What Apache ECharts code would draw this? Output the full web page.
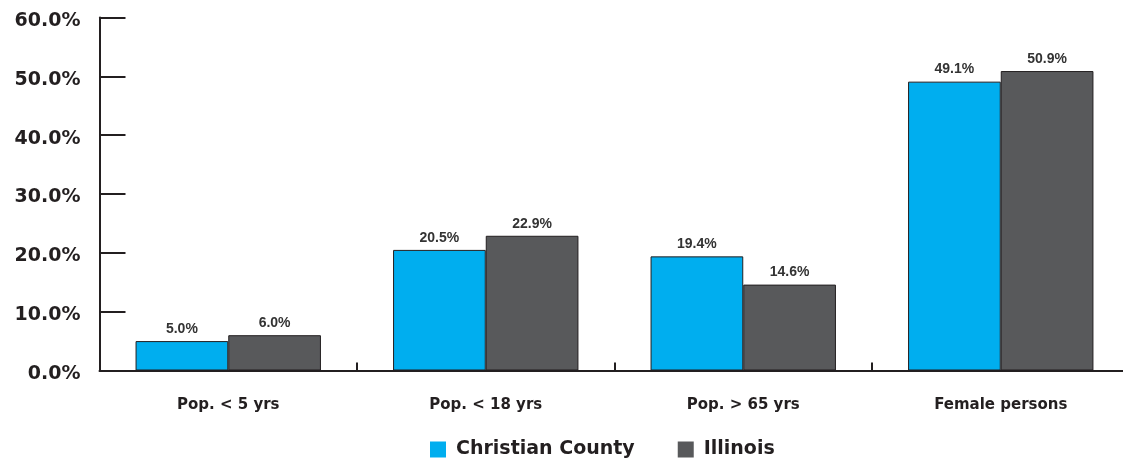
<!DOCTYPE html>
<html>
<head>
<meta charset="utf-8">
<script src="https://cdn.jsdelivr.net/npm/echarts@6/dist/echarts.min.js"></script>
<style>
  html, body { margin: 0; padding: 0; background: #ffffff; overflow: hidden; }
  /* a little wider than the window so the last category runs past the edge */
  #chart { width: 1130px; height: 461px; }
</style>
</head>
<body>
<div id="chart"></div>
<script>
// Population shares by group, county vs. state
const categories = ['Pop. < 5 yrs', 'Pop. < 18 yrs', 'Pop. > 65 yrs', 'Female persons'];
const christianCounty = [5.0, 20.5, 19.4, 49.1];
const illinois = [6.0, 22.9, 14.6, 50.9];
const seriesNames = ['Christian County', 'Illinois'];
const seriesColors = ['#00aeef', '#58595b'];

const WIDE = '"DejaVu Sans", Verdana, sans-serif';
const NARROW = '"Liberation Sans", Arial, Helvetica, sans-serif';
const INK = '#231f20';

const chart = echarts.init(document.getElementById('chart'), null, { renderer: 'canvas' });

function barSeries(name, data, color) {
  return {
    name: name,
    type: 'bar',
    data: data,
    barGap: '0%',
    barCategoryGap: '28%',
    itemStyle: { color: color, borderColor: INK, borderWidth: 1 },
    label: {
      show: true,
      position: 'top',
      distance: 5,
      formatter: p => p.value.toFixed(1) + '%',
      fontFamily: NARROW,
      fontWeight: 'bold',
      fontSize: 14,
      color: '#333333'
    }
  };
}

chart.setOption({
  animation: false,
  backgroundColor: '#ffffff',
  grid: { left: 99.5, right: 0.5, top: 17.5, height: 353, containLabel: false },
  legend: {
    data: seriesNames,
    left: 425,
    top: 435,
    icon: 'rect',
    itemWidth: 16,
    itemHeight: 16,
    itemGap: 43,
    itemStyle: { borderWidth: 0 },
    textStyle: { fontFamily: WIDE, fontSize: 19, fontWeight: 'bold', color: INK, padding: [0, 0, 0, 5] }
  },
  xAxis: {
    type: 'category',
    data: categories,
    axisLine: { lineStyle: { color: INK, width: 2 } },
    axisTick: { show: true, inside: true, length: 8, lineStyle: { color: INK, width: 2 } },
    axisLabel: {
      margin: 27,
      fontFamily: WIDE,
      fontWeight: 'bold',
      fontSize: 15,
      color: INK
    },
    splitLine: { show: false }
  },
  yAxis: {
    type: 'value',
    min: 0,
    max: 60,
    interval: 10,
    axisLine: { show: true, lineStyle: { color: INK, width: 2 } },
    axisTick: { show: true, inside: true, length: 26, lineStyle: { color: INK, width: 2 } },
    axisLabel: {
      margin: 19,
      formatter: v => '{v|' + v.toFixed(1) + '%}',
      rich: {
        v: {
          fontFamily: WIDE,
          fontWeight: 'bold',
          fontSize: 19,
          color: INK,
          padding: [7, 0, 0, 0]
        }
      }
    },
    splitLine: { show: false }
  },
  series: [
    barSeries(seriesNames[0], christianCounty, seriesColors[0]),
    barSeries(seriesNames[1], illinois, seriesColors[1])
  ]
});
</script>
</body>
</html>
